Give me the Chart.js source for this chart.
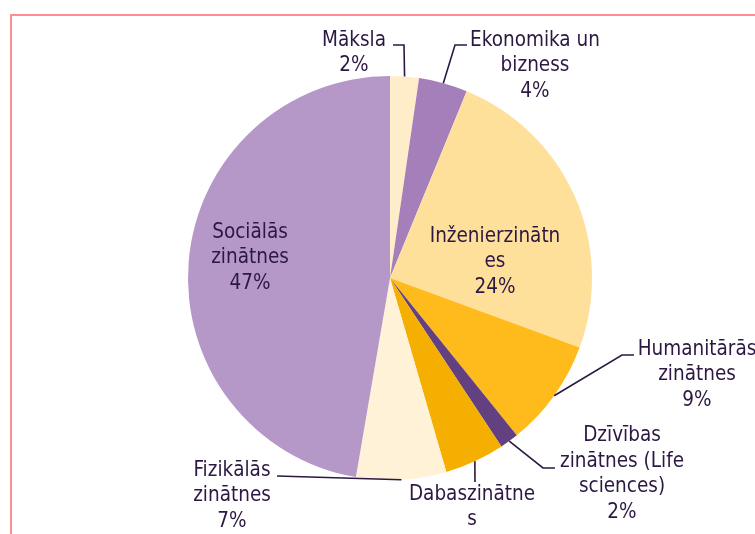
<!DOCTYPE html>
<html lang="lv">
<head>
<meta charset="UTF-8">
<title>Zinātņu nozares</title>
<script src="https://cdn.jsdelivr.net/npm/chart.js"></script>
<style>
  html, body { margin: 0; padding: 0; background: #fff; }
  .wrap { position: relative; width: 755px; height: 534px; overflow: hidden; }
  .frame { position: absolute; left: 10px; top: 14px; width: 800px; height: 600px;
           border-top: 2px solid #FF8C97; border-left: 2px solid #FF8C97; }
  canvas { position: absolute; left: 0; top: 0; }
</style>
</head>
<body>
<div class="wrap">
  <div class="frame"></div>
  <canvas id="pie" width="755" height="534"></canvas>
</div>
<script>
// nozares, pulkstenrādītāja virzienā no augšas
const categories = ['Māksla', 'Ekonomika un bizness', 'Inženierzinātnes', 'Humanitārās zinātnes',
  'Dzīvības zinātnes (Life sciences)', 'Dabaszinātnes', 'Fizikālās zinātnes', 'Sociālās zinātnes'];
const labelLines = [
  ['Māksla'],
  ['Ekonomika un', 'bizness'],
  ['Inženierzinātn', 'es'],
  ['Humanitārās', 'zinātnes'],
  ['Dzīvības', 'zinātnes (Life', 'sciences)'],
  ['Dabaszinātne', 's'],
  ['Fizikālās', 'zinātnes'],
  ['Sociālās', 'zinātnes']
];
const shares = [2.3, 3.9, 24.4, 8.6, 1.5, 4.8, 7.2, 47.3];
const colors = ['#FFEDC9', '#A47FBA', '#FFE09B', '#FFBB1C', '#634080', '#F5AF00', '#FFF2D6', '#B598C8'];

// teksta bloka centrs un līnijas lūzuma punkti (attiecībā pret centru)
const labelPos = [
  { dx: -36, dy: -225, path: [[14, -233], [3, -233]] },
  { dx: 145, dy: -212, path: [[65, -233], [77, -233]] },
  { dx: 105, dy: -16, path: null },
  { dx: 307, dy: 97, path: [[232, 77], [244, 77]] },
  { dx: 232, dy: 196, path: [[153, 190], [165, 190]] },
  { dx: 82, dy: 242, path: [[85, 204]] },
  { dx: -158, dy: 218, path: [[-113, 198]] },
  { dx: -140, dy: -20, path: null }
];

const textColor = '#2C1843';
const fontFamily = "'DejaVu Sans Condensed', 'DejaVu Sans', sans-serif";

const labelPlugin = {
  id: 'pieLabels',
  afterDraw(chart) {
    const ctx = chart.ctx;
    const ds = chart.data.datasets[0];
    const total = ds.data.reduce((a, b) => a + b, 0);
    const meta = chart.getDatasetMeta(0);
    ctx.save();
    ctx.font = '20.5px ' + fontFamily;
    ctx.fillStyle = textColor;
    ctx.strokeStyle = textColor;
    ctx.lineWidth = 1.6;
    ctx.textAlign = 'center';
    ctx.textBaseline = 'middle';
    const lh = 25.5;
    meta.data.forEach((arc, i) => {
      const p = arc.getProps(['x', 'y', 'startAngle', 'endAngle', 'outerRadius'], true);
      const pos = labelPos[i];
      if (pos.path) {
        const mid = (p.startAngle + p.endAngle) / 2;
        ctx.beginPath();
        ctx.moveTo(p.x + Math.cos(mid) * p.outerRadius, p.y + Math.sin(mid) * p.outerRadius);
        pos.path.forEach(pt => ctx.lineTo(p.x + pt[0], p.y + pt[1]));
        ctx.stroke();
      }
      const lines = labelLines[i].concat([Math.round(ds.data[i] / total * 100) + '%']);
      const top = p.y + pos.dy - (lines.length - 1) * lh / 2;
      lines.forEach((t, k) => ctx.fillText(t, p.x + pos.dx, top + k * lh));
    });
    ctx.restore();
  }
};

new Chart(document.getElementById('pie'), {
  type: 'pie',
  data: {
    labels: categories,
    datasets: [{
      data: shares,
      backgroundColor: colors,
      borderWidth: 0,
      hoverOffset: 0
    }]
  },
  options: {
    responsive: false,
    animation: false,
    layout: { padding: { top: 76, bottom: 54, left: 25, right: 0 } },
    plugins: {
      legend: { display: false },
      tooltip: { enabled: false }
    }
  },
  plugins: [labelPlugin]
});
</script>
</body>
</html>
